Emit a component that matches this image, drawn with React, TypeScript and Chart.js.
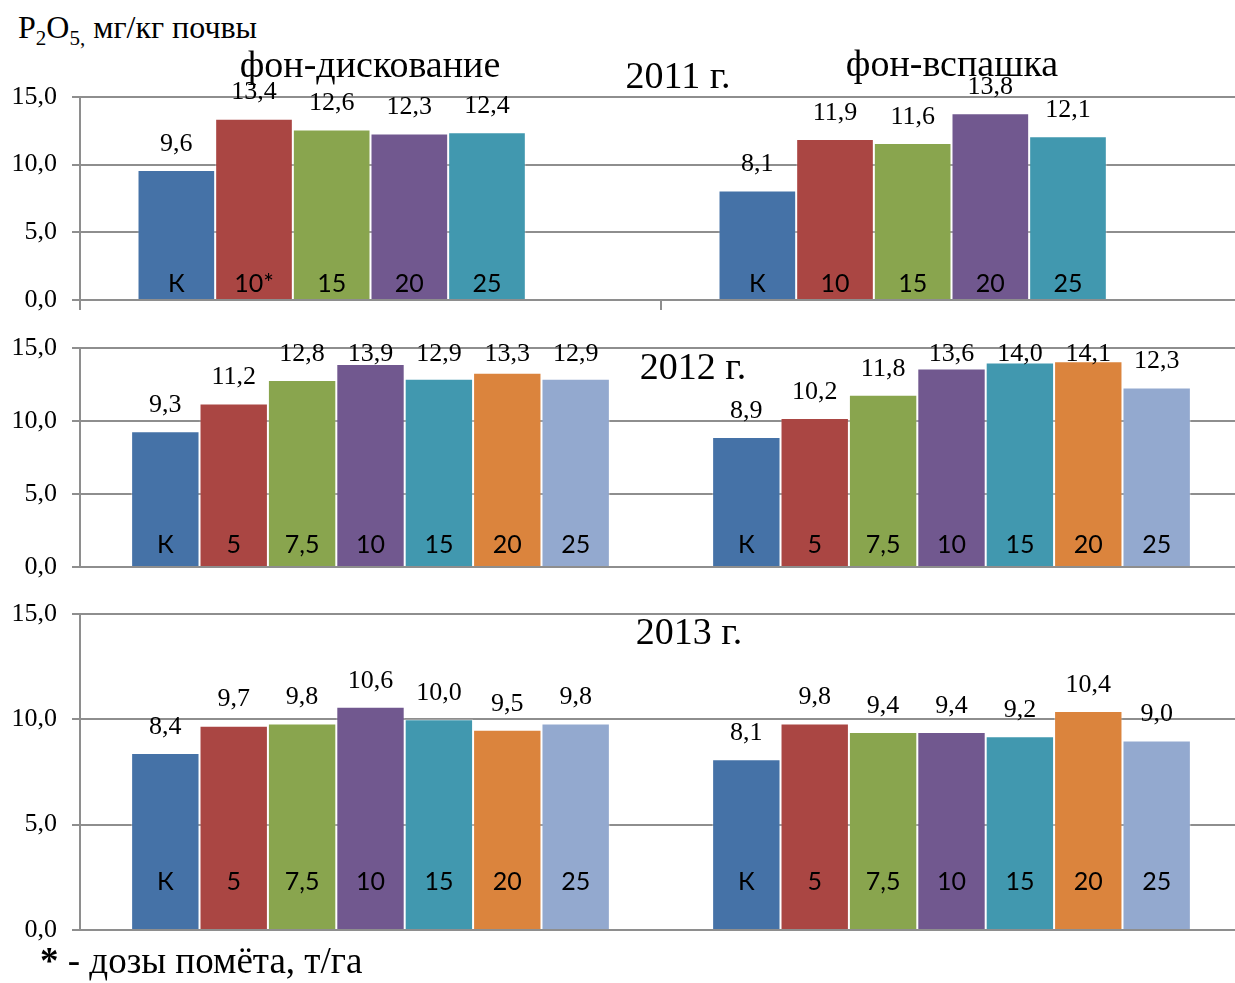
import React, { useEffect, useRef } from "react";
import { Chart, registerables } from "chart.js";

Chart.register(...registerables);

// ---------- data ----------
const groups = ["фон-дискование", "фон-вспашка"];

const doses2011Disc = ["К", "10*", "15", "20", "25"];
const doses2011Plow = ["К", "10", "15", "20", "25"];
const doses = ["К", "5", "7,5", "10", "15", "20", "25"];

const p2o5_2011Disc = [9.6, 13.4, 12.6, 12.3, 12.4];
const p2o5_2011Plow = [8.1, 11.9, 11.6, 13.8, 12.1];

const p2o5_2012Disc = [9.3, 11.2, 12.8, 13.9, 12.9, 13.3, 12.9];
const p2o5_2012Plow = [8.9, 10.2, 11.8, 13.6, 14.0, 14.1, 12.3];

const p2o5_2013Disc = [8.4, 9.7, 9.8, 10.6, 10.0, 9.5, 9.8];
const p2o5_2013Plow = [8.1, 9.8, 9.4, 9.4, 9.2, 10.4, 9.0];

const yTicks = [0, 5, 10, 15];

const colors = ["#4572A7", "#AA4643", "#89A54E", "#71588F", "#4198AF", "#DB843D", "#93A9CF"];
const gridColor = "#8e8e8e";

const serifCanvas = "'Liberation Serif', 'Times New Roman', serif";
Chart.defaults.font.family = serifCanvas;

const fmt = (v: number) => v.toFixed(1).replace(".", ",");

function buildDatasets(disc: number[], plow: number[], slots: number) {
  const out: any[] = [];
  for (let i = 0; i < slots; i++) {
    const has = i < disc.length;
    out.push({
      label: "s" + i,
      data: has ? [disc[i], plow[i]] : [null, null],
      backgroundColor: colors[i],
      borderColor: "rgba(255,255,255,0.35)",
      borderWidth: 1,
      borderSkipped: "start",
    });
  }
  return out;
}

type PanelProps = {
  top: number;
  height: number;
  padTop: number;
  padBottom: number;
  xTicks: boolean;
  datasets: any[];
  inner: string[][]; // [category][dataset]
  categoryPercentage: number;
  valueGap: number;
  innerGap: number;
  clampTop: number;
};

function Panel(p: PanelProps) {
  const ref = useRef<HTMLCanvasElement>(null);
  useEffect(() => {
    if (!ref.current) return;
    const labelPlugin = {
      id: "barLabels",
      afterDatasetsDraw(chart: any) {
        const { ctx, chartArea } = chart;
        ctx.save();
        ctx.fillStyle = "#000";
        ctx.textAlign = "center";
        ctx.textBaseline = "middle";
        chart.data.datasets.forEach((ds: any, di: number) => {
          const meta = chart.getDatasetMeta(di);
          meta.data.forEach((bar: any, ci: number) => {
            const v = ds.data[ci];
            if (v == null) return;
            const { x, y, base } = bar.getProps(["x", "y", "base"], true);
            ctx.font = "26px " + serifCanvas;
            const ly = Math.max(y - p.valueGap, chartArea.top + p.clampTop);
            ctx.fillText(fmt(v), x, ly);
            const lab = p.inner[ci] && p.inner[ci][di];
            if (lab) {
              ctx.font = "25px Lato, 'Open Sans', sans-serif";
              ctx.fillText(lab, x, base - p.innerGap);
            }
          });
        });
        ctx.restore();
      },
    };

    const chart = new Chart(ref.current, {
      type: "bar",
      data: { labels: groups, datasets: p.datasets },
      options: {
        animation: false,
        responsive: false,
        events: [],
        layout: { padding: { top: p.padTop, bottom: p.padBottom, left: 0, right: 8 } },
        plugins: { legend: { display: false }, tooltip: { enabled: false }, title: { display: false } },
        datasets: { bar: { categoryPercentage: p.categoryPercentage, barPercentage: 1 } },
        scales: {
          x: {
            display: p.xTicks,
            offset: true,
            ticks: { display: false },
            grid: {
              display: true,
              offset: true,
              drawOnChartArea: false,
              drawTicks: true,
              tickLength: 10,
              color: gridColor,
              lineWidth: 2,
            },
            border: { display: false },
            afterFit: (s: any) => {
              s.height = p.xTicks ? 12 : 0;
            },
          },
          y: {
            min: 0,
            max: 15,
            afterBuildTicks: (s: any) => {
              s.ticks = yTicks.map((v) => ({ value: v }));
            },
            afterFit: (s: any) => {
              s.width = 80;
            },
            ticks: {
              callback: (v: any) => fmt(Number(v)),
              font: { family: serifCanvas, size: 26 },
              color: "#000",
              padding: 15,
            },
            grid: { color: gridColor, lineWidth: 2, tickLength: 8, drawTicks: true },
            border: { display: true, color: gridColor, width: 2 },
          },
        },
      } as any,
      plugins: [labelPlugin],
    });
    return () => chart.destroy();
  }, []);
  return (
    <canvas
      ref={ref}
      width={1250}
      height={p.height}
      style={{ position: "absolute", left: 0, top: p.top, width: 1250, height: p.height }}
    />
  );
}

const serif = '"Liberation Serif", "Times New Roman", serif';

function Label({ text, cx, top, size }: { text: string; cx: number; top: number; size: number }) {
  return (
    <div
      style={{
        position: "absolute",
        left: cx,
        top,
        transform: "translateX(-50%)",
        fontFamily: serif,
        fontSize: size,
        lineHeight: size + "px",
        whiteSpace: "nowrap",
        color: "#000",
      }}
    >
      {text}
    </div>
  );
}

export default function App() {
  const ds2011 = buildDatasets(p2o5_2011Disc, p2o5_2011Plow, 6);
  const ds2012 = buildDatasets(p2o5_2012Disc, p2o5_2012Plow, 7);
  const ds2013 = buildDatasets(p2o5_2013Disc, p2o5_2013Plow, 7);
  return (
    <div
      style={{
        position: "fixed",
        left: 0,
        top: 0,
        width: 1235,
        height: 983,
        overflow: "hidden",
        background: "#fff",
      }}
    >
      <Panel
        top={65}
        height={267}
        padTop={32}
        padBottom={20}
        xTicks={true}
        datasets={ds2011}
        inner={[doses2011Disc, doses2011Plow]}
        categoryPercentage={0.802}
        valueGap={26}
        innerGap={15}
        clampTop={-100}
      />
      <Panel
        top={316}
        height={283}
        padTop={32}
        padBottom={32}
        xTicks={false}
        datasets={ds2012}
        inner={[doses, doses]}
        categoryPercentage={0.824}
        valueGap={26}
        innerGap={21}
        clampTop={6.5}
      />
      <Panel
        top={582}
        height={380}
        padTop={32}
        padBottom={32}
        xTicks={false}
        datasets={ds2013}
        inner={[doses, doses]}
        categoryPercentage={0.824}
        valueGap={26}
        innerGap={47}
        clampTop={6}
      />

      <div
        style={{
          position: "absolute",
          left: 18,
          top: 11,
          fontFamily: serif,
          fontSize: 32,
          lineHeight: "32px",
          whiteSpace: "nowrap",
          color: "#000",
        }}
      >
        P<span style={{ fontSize: 21, position: "relative", top: 7 }}>2</span>O
        <span style={{ fontSize: 21, position: "relative", top: 7 }}>5,</span> мг/кг почвы
      </div>

      <Label text={groups[0]} cx={370} top={45} size={38} />
      <Label text={groups[1]} cx={952} top={44} size={38} />
      <Label text="2011 г." cx={678} top={56} size={38} />
      <Label text="2012 г." cx={693} top={347} size={38} />
      <Label text="2013 г." cx={689} top={612} size={38} />

      <div
        style={{
          position: "absolute",
          left: 40,
          top: 942,
          fontFamily: serif,
          fontSize: 37,
          lineHeight: "37px",
          whiteSpace: "nowrap",
          color: "#000",
        }}
      >
        <b>*</b> - дозы помёта, т/га
      </div>
    </div>
  );
}
